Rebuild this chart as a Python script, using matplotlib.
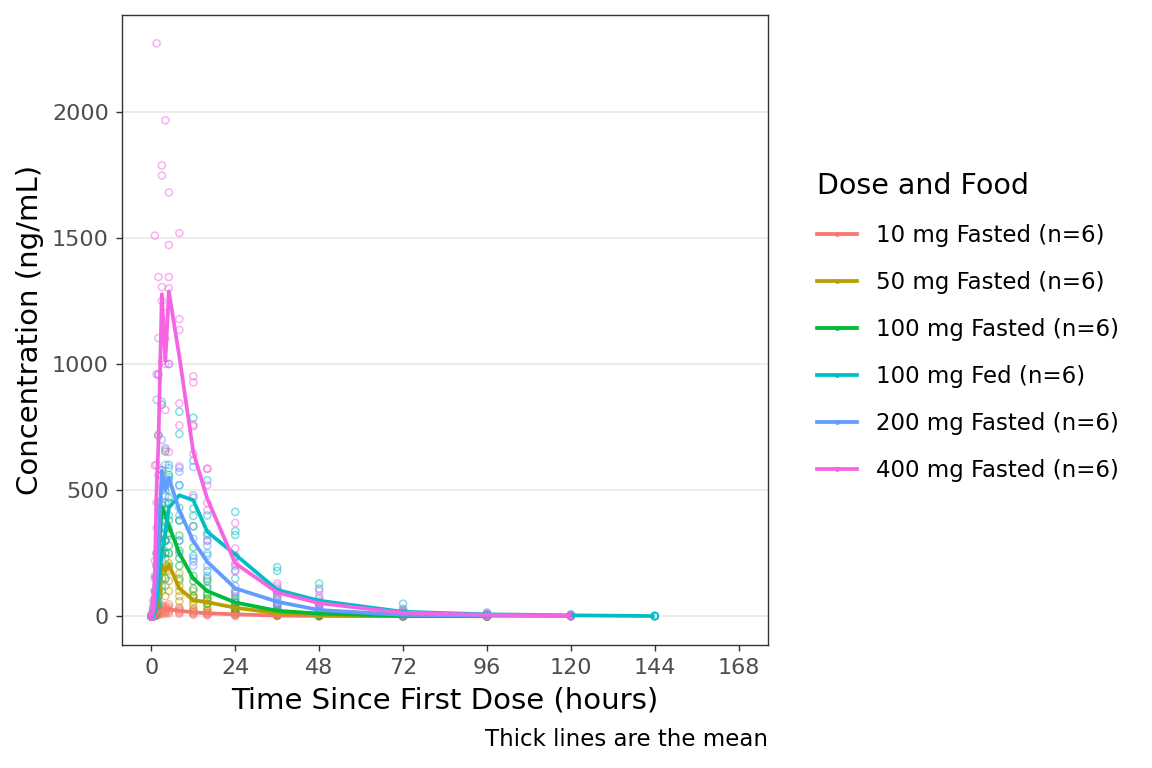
import numpy as np
import matplotlib
matplotlib.use('Agg')
import matplotlib.pyplot as plt
from matplotlib.lines import Line2D

# nominal sampling times (hours)
times = [0, 0.5, 1, 1.5, 2, 3, 4, 5, 8, 12, 16, 24, 36, 48, 72, 96, 120, 144]
nan = np.nan

groups = ['10 mg Fasted (n=6)', '50 mg Fasted (n=6)', '100 mg Fasted (n=6)',
          '100 mg Fed (n=6)', '200 mg Fasted (n=6)', '400 mg Fasted (n=6)']

# mean profiles (ng/mL)
mean_10f = [0, 1, 5, 10, 15, 25, 24, 28, 22, 16, 12, 8, 3, 1.5, 0.5, 0.2, nan, nan]
mean_50f = [0, 3, 12, 35, 70, 205, 178, 205, 111, 64, 56, 34, 13, 5, 1.5, 0.5, nan, nan]
mean_100f = [0, 8, 40, 130, 250, 433, 400, 360, 250, 150, 100, 55, 22, 11, 2, 1, nan, nan]
mean_100fed = [0, 3, 20, 60, 130, 250, 330, 430, 480, 460, 335, 245, 105, 62, 18, 8, 4, 1]
mean_200f = [0, 10, 40, 120, 260, 578, 500, 550, 420, 298, 216, 111, 58, 25, 6, 2, 1, nan]
mean_400f = [0, 20, 175, 510, 676, 1277, 1012, 1288, 1030, 650, 466, 210, 95, 52, 14, 6, 2, nan]

# individual concentrations, 6 subjects per time point
ind_10f = [[0]*6, [0, 0.5, 1, 1, 2, 3], [1, 2, 4, 6, 8, 12], [3, 5, 8, 12, 15, 20],
           [5, 8, 12, 18, 22, 28], [10, 15, 22, 28, 35, 45], [10, 15, 20, 26, 32, 40],
           [12, 18, 24, 30, 38, 48], [10, 15, 20, 24, 30, 35], [6, 10, 14, 17, 20, 25],
           [4, 7, 10, 13, 16, 20], [2, 4, 6, 8, 10, 12], [1, 2, 3, 3, 4, 5],
           [0.3, 0.8, 1.2, 1.5, 2, 3], [0.1, 0.2, 0.4, 0.5, 0.7, 1],
           [0.05, 0.1, 0.15, 0.2, 0.3, 0.4], [], []]
ind_50f = [[0]*6, [0, 1, 2, 3, 5, 8], [3, 5, 10, 15, 20, 30], [10, 20, 30, 40, 50, 70],
           [20, 40, 60, 80, 100, 130], [100, 150, 180, 220, 260, 320],
           [80, 120, 150, 180, 230, 300], [100, 140, 180, 210, 250, 320],
           [60, 80, 100, 120, 140, 170], [30, 45, 60, 70, 80, 100], [25, 35, 50, 60, 70, 84],
           [15, 20, 30, 35, 40, 55], [5, 8, 12, 15, 18, 22], [1, 2, 4, 5, 7, 10],
           [0.2, 0.5, 1, 1.5, 2, 3], [0.05, 0.1, 0.2, 0.4, 0.6, 1], [], []]
ind_100f = [[0]*6, [1, 3, 5, 8, 12, 20], [10, 20, 30, 50, 70, 100], [40, 80, 120, 160, 200, 250],
            [100, 150, 200, 260, 320, 719], [250, 330, 400, 440, 578, 839],
            [250, 300, 350, 420, 500, 653], [200, 280, 330, 380, 450, 560],
            [150, 200, 230, 260, 320, 380], [80, 110, 140, 160, 273, 357],
            [50, 70, 90, 110, 140, 150], [20, 30, 45, 55, 70, 90], [8, 12, 18, 22, 30, 40],
            [3, 5, 8, 10, 15, 20], [0.5, 1, 1.5, 2, 3, 4], [0.1, 0.2, 0.4, 0.6, 1, 1.5], [], []]
ind_100fed = [[0]*6, [0, 1, 2, 3, 5, 8], [5, 10, 20, 30, 40, 60], [20, 40, 60, 80, 100, 150],
              [50, 80, 120, 150, 200, 250], [120, 180, 240, 300, 350, 420],
              [150, 250, 300, 380, 450, 520], [250, 330, 400, 470, 550, 600],
              [300, 380, 430, 520, 723, 811], [240, 398, 427, 470, 617, 787],
              [180, 250, 300, 330, 400, 539], [150, 200, 240, 322, 338, 414],
              [50, 70, 90, 110, 180, 195], [30, 45, 55, 70, 110, 130], [5, 10, 15, 20, 30, 50],
              [2, 4, 6, 8, 10, 15], [1, 2, 3, 4, 5, 8], [0.3, 0.5, 1, 1, 1.5, 2]]
ind_200f = [[0]*6, [2, 5, 8, 12, 20, 30], [10, 20, 40, 60, 100, 160], [30, 60, 100, 150, 250, 858],
            [100, 150, 250, 350, 450, 956], [360, 450, 510, 580, 700, 850],
            [300, 400, 480, 520, 600, 667], [350, 450, 500, 540, 588, 1000],
            [250, 300, 400, 519, 573, 588], [200, 217, 229, 308, 357, 592],
            [120, 160, 200, 240, 280, 320], [60, 80, 100, 120, 181, 236],
            [25, 40, 50, 60, 80, 100], [8, 15, 20, 25, 35, 50], [2, 3, 4, 6, 8, 12],
            [0.5, 1, 2, 2, 3, 5], [0.2, 0.5, 0.8, 1, 1.5, 2], []]
ind_400f = [[0]*6, [2, 5, 10, 20, 40, 60], [30, 80, 150, 220, 598, 1509],
            [200, 350, 450, 600, 960, 2271], [420, 560, 715, 960, 1103, 1345],
            [560, 1010, 1250, 1305, 1747, 1787], [660, 818, 1000, 1100, 1200, 1966],
            [651, 1000, 1300, 1345, 1472, 1680], [595, 757, 844, 1135, 1178, 1519],
            [480, 644, 753, 759, 927, 951], [300, 420, 450, 520, 585, 585],
            [100, 180, 210, 236, 269, 370], [50, 80, 95, 100, 120, 130],
            [20, 40, 50, 60, 80, 100], [5, 10, 12, 15, 20, 25], [2, 4, 5, 7, 8, 10],
            [1, 1, 2, 2, 3, 4], []]

means = [mean_10f, mean_50f, mean_100f, mean_100fed, mean_200f, mean_400f]
indiv = [ind_10f, ind_50f, ind_100f, ind_100fed, ind_200f, ind_400f]
colors = ['#F8766D', '#B79F00', '#00BA38', '#00BFC4', '#619CFF', '#F564E3']

fig = plt.figure(figsize=(11.52, 7.68), dpi=100)
ax = fig.add_axes([0.1059, 0.1602, 0.5608, 0.8203])

# points first
for ind, col in zip(indiv, colors):
    xs, ys = [], []
    for t, vals in zip(times, ind):
        xs += [t] * len(vals)
        ys += vals
    ax.scatter(xs, ys, s=26, facecolors='none', edgecolors=col, linewidths=1.1,
               alpha=0.5, zorder=2)

# mean lines on top
handles = []
for m, col, lab in zip(means, colors, groups):
    ax.plot(times, m, color=col, lw=2.7, solid_capstyle='butt', zorder=3)
    handles.append(Line2D([], [], color=col, lw=2.7, marker='o', ms=3.5,
                          markerfacecolor=col, markeredgewidth=0, label=lab))

ax.set_xlim(-8.4, 176.4)
ax.set_ylim(-113.5, 2383.5)
ax.set_xticks([0, 24, 48, 72, 96, 120, 144, 168])
ax.set_yticks([0, 500, 1000, 1500, 2000])
ax.yaxis.grid(True, color='#EBEBEB', lw=1.3, zorder=0)
ax.set_axisbelow(True)
for s in ax.spines.values():
    s.set_color('#333333')
    s.set_linewidth(1.0)
ax.tick_params(colors='#333333', labelcolor='#4D4D4D', labelsize=16, length=4.5,
               width=1.0, pad=5)

ax.set_xlabel('Time Since First Dose (hours)', fontsize=21, labelpad=6)
ax.set_ylabel('Concentration (ng/mL)', fontsize=21, labelpad=6)

leg = fig.legend(handles=handles, title='Dose and Food', loc='center left',
                 bbox_to_anchor=(0.699, 0.574), frameon=False, fontsize=16.5,
                 title_fontsize=20.5, handlelength=1.75, handletextpad=0.85,
                 labelspacing=1.05, borderpad=0, alignment='left')

fig.text(0.6667, 1 - 740 / 768, 'Thick lines are the mean', ha='right', va='center',
         fontsize=16.5)

fig.savefig('out.png', dpi=100)
